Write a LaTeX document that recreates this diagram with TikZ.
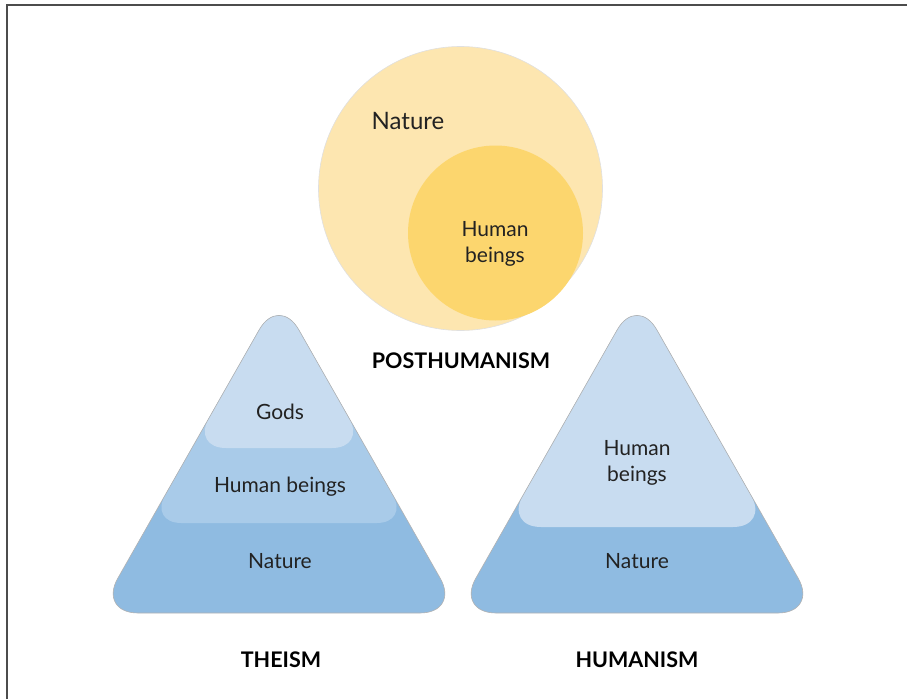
\documentclass[tikz,border=0pt]{standalone}
\usepackage{fontspec}
\setmainfont{Lato}
\definecolor{natureblue}{HTML}{8FBBE1}
\definecolor{humanblue}{HTML}{A9CBE9}
\definecolor{godsblue}{HTML}{C8DCF0}
\definecolor{naturesand}{HTML}{FDE6B0}
\definecolor{humansand}{HTML}{FCD66E}
\definecolor{inktext}{HTML}{222222}
\newcommand{\pyramid}[1]{(#1,613) -- (#1+181,613) -- (#1,295) -- (#1-181,613) -- cycle}
\newcommand{\layer}[2]{(#1,#2) -- (#1+0.569*#2-167.9,#2) -- (#1,295) -- (#1-0.569*#2+167.9,#2) -- cycle}
\begin{document}
\begin{tikzpicture}[x=1pt, y=-1pt,
    lbl/.style={font=\fontsize{21}{26}\selectfont, text=inktext, align=center},
    heading/.style={font=\fontsize{21.5}{26}\selectfont\bfseries, text=black},
    rim/.style={draw=black!30, line width=0.6pt}]
    \useasboundingbox (0,0) rectangle (907,699);
    \draw[black!70, line width=2pt] (6.5,699) -- (6.5,4.5) -- (907,4.5);

    % posthumanism
    \draw[fill=naturesand, draw=black!12, line width=0.6pt] (460.5,188.5) circle (142);
    \fill[humansand] (495.5,233) circle (87.5);
    \node[lbl, font=\fontsize{24}{28}\selectfont] (naturec) at (408,121) {Nature};
    \node[lbl] (humanc) at (495,244) {Human\\beings};
    \node[heading] (posthum) at (461,361) {POSTHUMANISM};

    % theism
    \fill[natureblue, rounded corners=40] \pyramid{279};
    \begin{scope}
        \clip[rounded corners=40] \pyramid{279};
        \fill[humanblue, rounded corners=32] \layer{279}{523};
        \fill[godsblue, rounded corners=34] \layer{279}{448};
    \end{scope}
    \draw[rim, rounded corners=40] \pyramid{279};
    \node[lbl] (gods) at (280,412) {Gods};
    \node[lbl] (humant) at (280,487) {Human beings};
    \node[lbl] (naturet) at (280,561) {Nature};
    \node[heading] (theism) at (281,660) {THEISM};

    % humanism
    \fill[natureblue, rounded corners=40] \pyramid{637};
    \begin{scope}
        \clip[rounded corners=40] \pyramid{637};
        \fill[godsblue, rounded corners=36] \layer{637}{527};
    \end{scope}
    \draw[rim, rounded corners=40] \pyramid{637};
    \node[lbl] (humanh) at (637,463) {Human\\beings};
    \node[lbl] (natureh) at (637,561) {Nature};
    \node[heading] (humanism) at (637,660) {HUMANISM};
\end{tikzpicture}
\end{document}
